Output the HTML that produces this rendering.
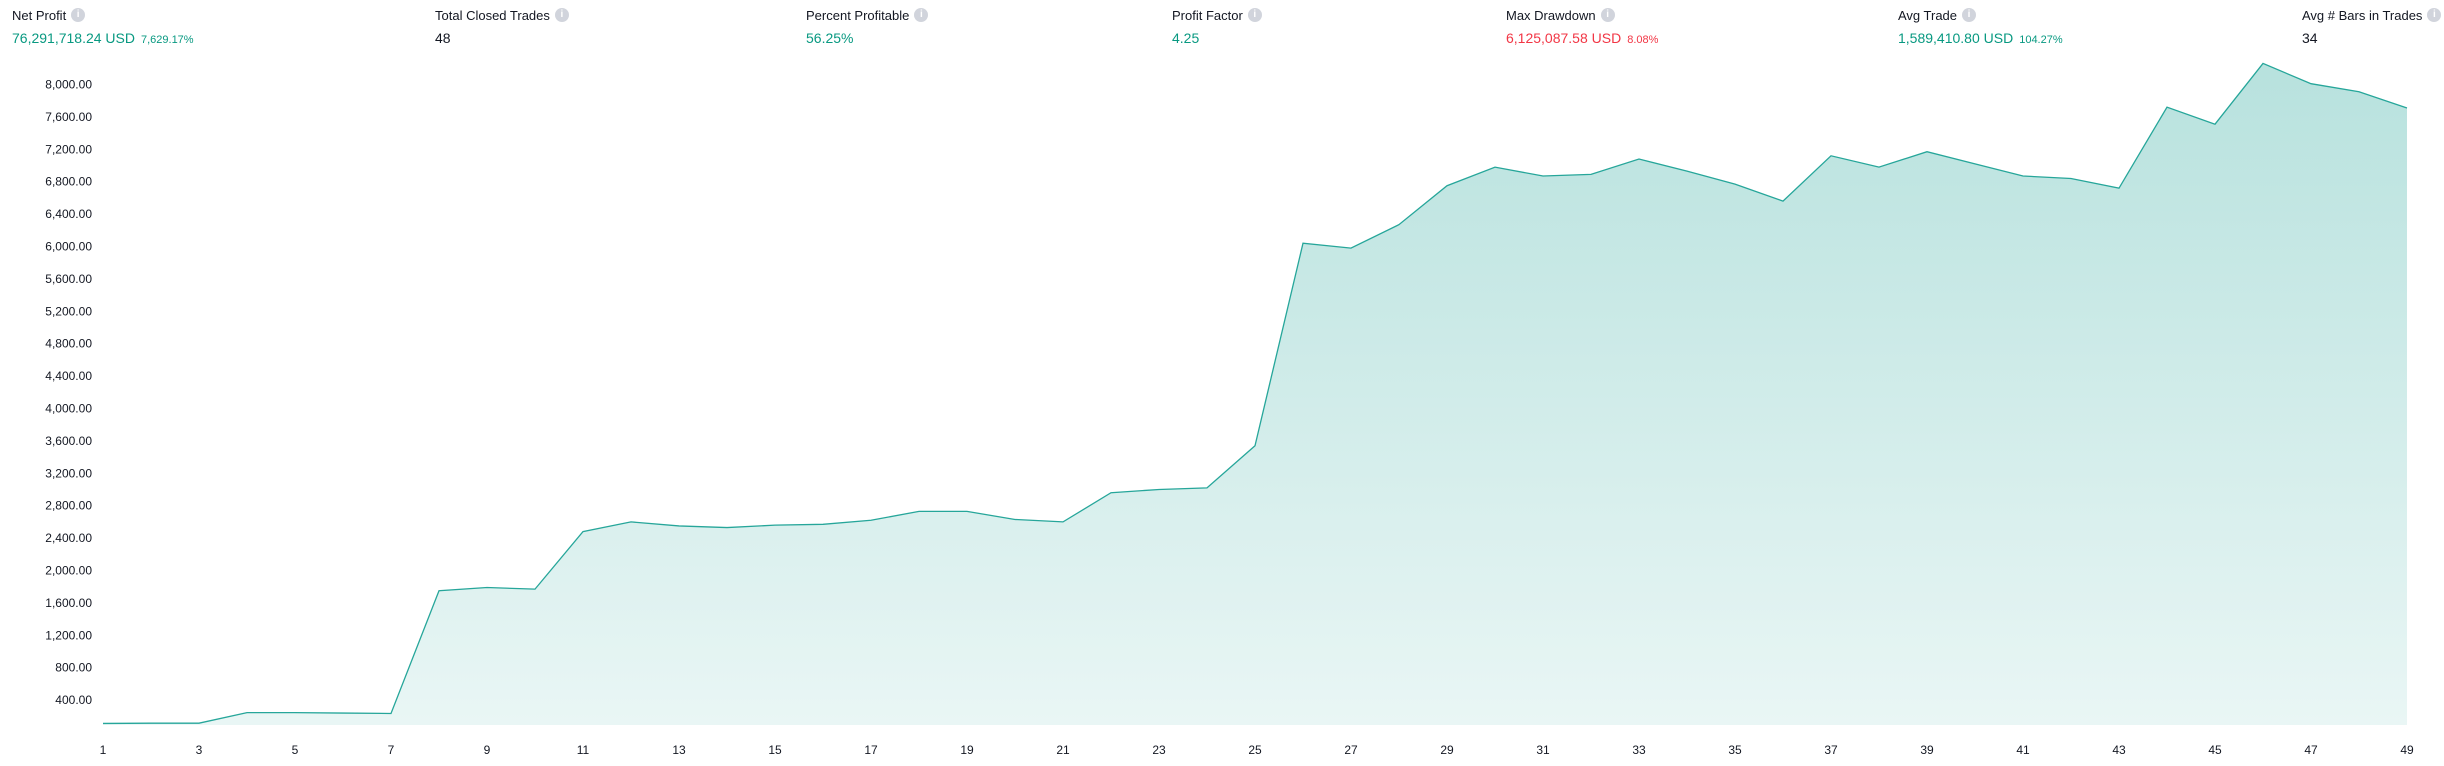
<!DOCTYPE html>
<html><head><meta charset="utf-8"><style>
body{margin:0;width:2444px;height:766px;background:#fff;font-family:"Liberation Sans",sans-serif;overflow:hidden;position:relative}
.stat{position:absolute;top:6px}
.lab{font-size:13px;color:#131722;display:flex;align-items:center;gap:5px;height:18px}
.info{width:14px;height:14px;border-radius:50%;background:#d1d4dc;color:#fff;font-size:10px;text-align:center;line-height:14px;font-weight:bold}
.val{font-size:14px;margin-top:6px;color:#131722}
.g{color:#089981}.r{color:#f23645}.sm{font-size:11px;margin-left:6px}
svg{position:absolute;left:0;top:0}
</style></head><body>
<div class="stat" style="left:12px"><div class="lab">Net Profit <span class="info">i</span></div><div class="val g">76,291,718.24 USD<span class="sm">7,629.17%</span></div></div>
<div class="stat" style="left:435px"><div class="lab">Total Closed Trades <span class="info">i</span></div><div class="val">48</div></div>
<div class="stat" style="left:806px"><div class="lab">Percent Profitable <span class="info">i</span></div><div class="val g">56.25%</div></div>
<div class="stat" style="left:1172px"><div class="lab">Profit Factor <span class="info">i</span></div><div class="val g">4.25</div></div>
<div class="stat" style="left:1506px"><div class="lab">Max Drawdown <span class="info">i</span></div><div class="val r">6,125,087.58 USD<span class="sm">8.08%</span></div></div>
<div class="stat" style="left:1898px"><div class="lab">Avg Trade <span class="info">i</span></div><div class="val g">1,589,410.80 USD<span class="sm">104.27%</span></div></div>
<div class="stat" style="left:2302px"><div class="lab">Avg # Bars in Trades <span class="info">i</span></div><div class="val">34</div></div>
<svg id="chart" width="2444" height="766">
<defs><linearGradient id="gr" x1="0" y1="0" x2="0" y2="1"><stop offset="0" stop-color="#26a69a" stop-opacity="0.33"/><stop offset="1" stop-color="#26a69a" stop-opacity="0.1"/></linearGradient></defs>
</svg>
<script>
const trades=[];for(let i=1;i<=49;i++)trades.push(i);
const equity=[112,115,115,245,245,240,235,1750,1790,1770,2480,2600,2550,2530,2560,2570,2620,2730,2730,2630,2600,2960,3000,3020,3540,6040,5980,6270,6750,6980,6870,6890,7080,6930,6770,6560,7120,6980,7170,7020,6870,6840,6720,7720,7510,8260,8010,7910,7710];
const yTicks=[400,800,1200,1600,2000,2400,2800,3200,3600,4000,4400,4800,5200,5600,6000,6400,6800,7200,7600,8000];
const svg=document.getElementById('chart');const NS='http://www.w3.org/2000/svg';
const x=i=>103+(i-1)*48;
const y=v=>732.5-v*32.4/400;
const bottom=725;
function mk(t,a){const e=document.createElementNS(NS,t);for(const k in a)e.setAttribute(k,a[k]);svg.appendChild(e);return e;}
yTicks.forEach(v=>{const t=mk('text',{x:92,y:y(v)+4,'text-anchor':'end','font-size':'12','fill':'#131722','font-family':'Liberation Sans, sans-serif'});t.textContent=v.toLocaleString('en-US',{minimumFractionDigits:2});

});
trades.forEach(i=>{if(i%2==1){const t=mk('text',{x:x(i),y:754,'text-anchor':'middle','font-size':'12','fill':'#131722','font-family':'Liberation Sans, sans-serif'});t.textContent=i;

}});
let pts=equity.map((v,k)=>x(trades[k])+','+y(v)).join(' ');
const area=mk('polygon',{points:x(trades[0])+','+bottom+' '+pts+' '+x(trades[trades.length-1])+','+bottom,fill:'url(#gr)'});


const line=mk('polyline',{points:pts,fill:'none',stroke:'#26a69a','stroke-width':'1.3'});


</script>
</body></html>
